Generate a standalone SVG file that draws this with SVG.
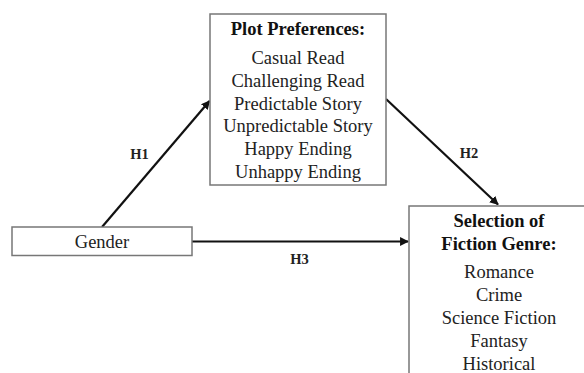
<svg xmlns="http://www.w3.org/2000/svg" width="584" height="373" viewBox="0 0 584 373">
  <defs>
    <marker id="arrow" viewBox="0 0 10 10" refX="9" refY="5" markerWidth="4" markerHeight="4" orient="auto" markerUnits="strokeWidth">
      <path d="M0,0 L10,5 L0,10 z" fill="#111"/>
    </marker>
    <style>
      .box { fill: #fff; stroke: #777; stroke-width: 1.5; }
      .txt { font-family: "Liberation Serif", "Times New Roman", serif; font-size: 18.5px; fill: #222; text-anchor: middle; }
      .ttl { font-family: "Liberation Serif", "Times New Roman", serif; font-size: 18.5px; font-weight: bold; fill: #111; text-anchor: middle; }
      .lbl { font-family: "Liberation Serif", "Times New Roman", serif; font-size: 14.5px; font-weight: bold; fill: #222; text-anchor: middle; }
      .edge { stroke: #111; stroke-width: 2.2; fill: none; marker-end: url(#arrow); }
    </style>
  </defs>
  <rect width="584" height="373" fill="#fff"/>

  <g id="connectors">
    <line class="edge" x1="102" y1="227" x2="209.5" y2="101"/>
    <line class="edge" x1="386" y1="99" x2="498" y2="204.5"/>
    <line class="edge" x1="192" y1="241.5" x2="408" y2="241.5"/>
    <text class="lbl" x="139.5" y="159">H1</text>
    <text class="lbl" x="469" y="158">H2</text>
    <text class="lbl" x="299.5" y="264">H3</text>
  </g>

  <g id="plot-preferences">
    <rect class="box" x="210" y="14" width="176" height="171"/>
    <text class="ttl" x="298" y="35">Plot Preferences:</text>
    <text class="txt" x="298" y="64">Casual Read</text>
    <text class="txt" x="298" y="86.8">Challenging Read</text>
    <text class="txt" x="298" y="109.6">Predictable Story</text>
    <text class="txt" x="298" y="132.4">Unpredictable Story</text>
    <text class="txt" x="298" y="155.2">Happy Ending</text>
    <text class="txt" x="298" y="178">Unhappy Ending</text>
  </g>

  <g id="gender">
    <rect class="box" x="12" y="227" width="180" height="28.5"/>
    <text class="txt" x="102" y="247.5">Gender</text>
  </g>

  <g id="fiction-genre">
    <rect class="box" x="409" y="206" width="190" height="180"/>
    <text class="ttl" x="499" y="227">Selection of</text>
    <text class="ttl" x="499" y="250">Fiction Genre:</text>
    <text class="txt" x="499" y="278">Romance</text>
    <text class="txt" x="499" y="301">Crime</text>
    <text class="txt" x="499" y="324">Science Fiction</text>
    <text class="txt" x="499" y="347">Fantasy</text>
    <text class="txt" x="499" y="369.5">Historical</text>
  </g>
</svg>
